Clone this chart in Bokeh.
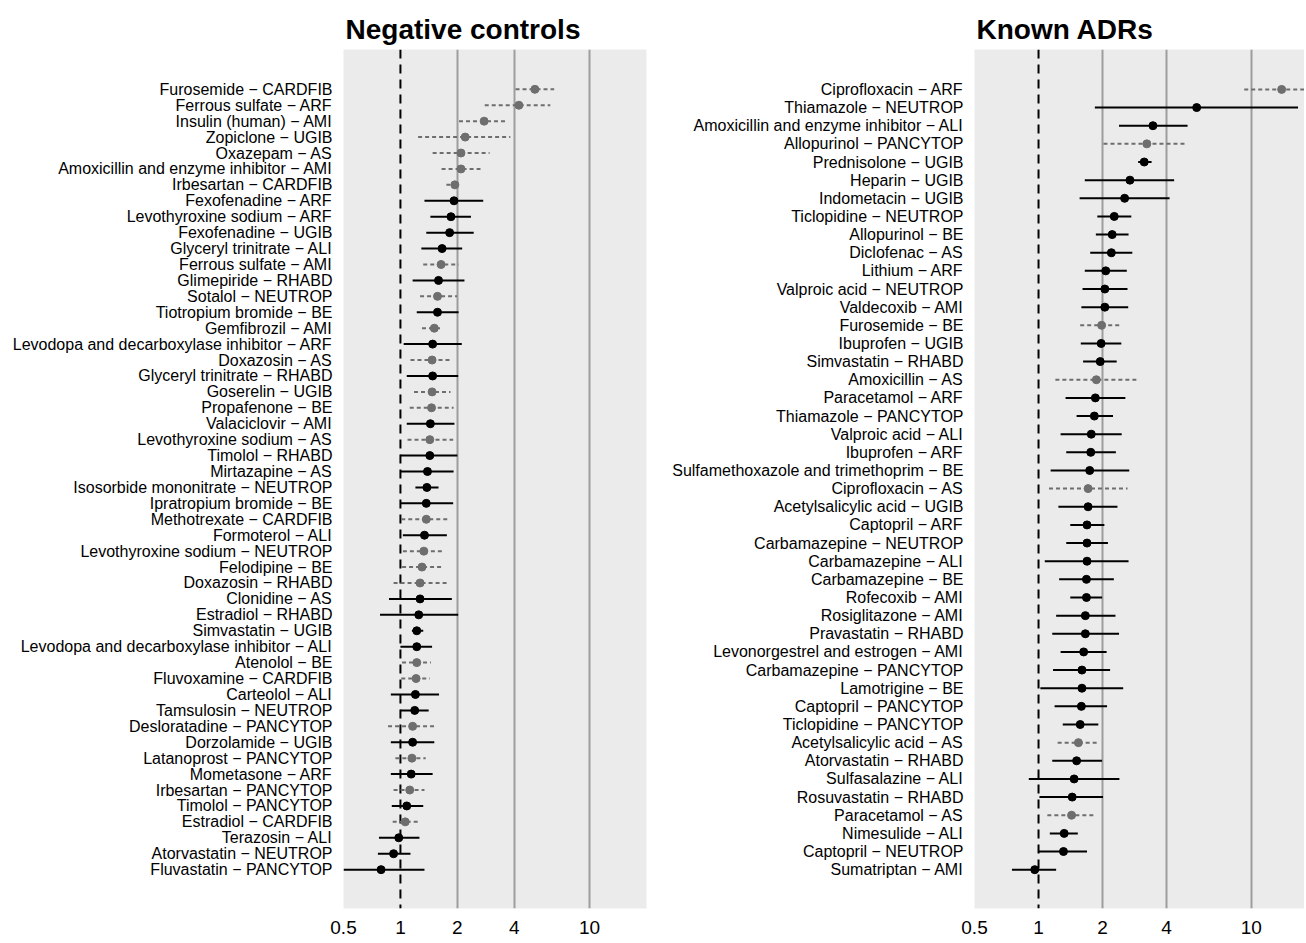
from bokeh.plotting import figure
from bokeh.layouts import row
from bokeh.models import Range1d, FixedTicker, Span, ColumnDataSource, NumeralTickFormatter
from bokeh.embed import file_html
from bokeh.resources import INLINE

# ---------------- data: negative controls ----------------
neg_labels = [
    "Furosemide − CARDFIB", "Ferrous sulfate − ARF", "Insulin (human) − AMI", "Zopiclone − UGIB",
    "Oxazepam − AS", "Amoxicillin and enzyme inhibitor − AMI", "Irbesartan − CARDFIB",
    "Fexofenadine − ARF", "Levothyroxine sodium − ARF", "Fexofenadine − UGIB",
    "Glyceryl trinitrate − ALI", "Ferrous sulfate − AMI", "Glimepiride − RHABD",
    "Sotalol − NEUTROP", "Tiotropium bromide − BE", "Gemfibrozil − AMI",
    "Levodopa and decarboxylase inhibitor − ARF", "Doxazosin − AS", "Glyceryl trinitrate − RHABD",
    "Goserelin − UGIB", "Propafenone − BE", "Valaciclovir − AMI", "Levothyroxine sodium − AS",
    "Timolol − RHABD", "Mirtazapine − AS", "Isosorbide mononitrate − NEUTROP",
    "Ipratropium bromide − BE", "Methotrexate − CARDFIB", "Formoterol − ALI",
    "Levothyroxine sodium − NEUTROP", "Felodipine − BE", "Doxazosin − RHABD", "Clonidine − AS",
    "Estradiol − RHABD", "Simvastatin − UGIB", "Levodopa and decarboxylase inhibitor − ALI",
    "Atenolol − BE", "Fluvoxamine − CARDFIB", "Carteolol − ALI", "Tamsulosin − NEUTROP",
    "Desloratadine − PANCYTOP", "Dorzolamide − UGIB", "Latanoprost − PANCYTOP",
    "Mometasone − ARF", "Irbesartan − PANCYTOP", "Timolol − PANCYTOP", "Estradiol − CARDFIB",
    "Terazosin − ALI", "Atorvastatin − NEUTROP", "Fluvastatin − PANCYTOP",
]
neg_est = [5.14, 4.23, 2.77, 2.20, 2.09, 2.09, 1.94, 1.92, 1.85, 1.82,
           1.66, 1.64, 1.59, 1.57, 1.57, 1.51, 1.48, 1.47, 1.48, 1.47,
           1.46, 1.44, 1.43, 1.43, 1.39, 1.38, 1.37, 1.37, 1.34, 1.33,
           1.30, 1.27, 1.27, 1.25, 1.22, 1.22, 1.22, 1.21, 1.20, 1.19,
           1.16, 1.16, 1.15, 1.14, 1.12, 1.08, 1.06, 0.98, 0.92, 0.79]
neg_lo = [4.06, 2.79, 2.04, 1.24, 1.48, 1.65, 1.75, 1.34, 1.44, 1.37,
          1.29, 1.32, 1.16, 1.27, 1.22, 1.30, 1.04, 1.13, 1.08, 1.18,
          1.12, 1.08, 1.09, 1.00, 1.00, 1.20, 1.00, 1.01, 1.03, 1.03,
          1.02, 0.92, 0.87, 0.78, 1.15, 1.00, 1.02, 1.01, 0.89, 1.00,
          0.86, 0.89, 0.94, 0.89, 0.92, 0.90, 0.91, 0.77, 0.76, 0.50]
neg_hi = [6.50, 6.20, 3.66, 3.81, 2.96, 2.65, 2.02, 2.74, 2.36, 2.44,
          2.12, 2.03, 2.18, 1.99, 2.03, 1.68, 2.11, 1.82, 2.02, 1.84,
          1.91, 1.93, 1.90, 2.00, 1.91, 1.59, 1.90, 1.82, 1.76, 1.67,
          1.65, 1.76, 1.87, 2.02, 1.32, 1.47, 1.45, 1.43, 1.60, 1.41,
          1.54, 1.51, 1.36, 1.48, 1.34, 1.32, 1.27, 1.26, 1.13, 1.34]
neg_dashed = [1, 1, 1, 1, 1, 1, 1, 0, 0, 0,
              0, 1, 0, 1, 0, 1, 0, 1, 0, 1,
              1, 0, 1, 0, 0, 0, 0, 1, 0, 1,
              1, 1, 0, 0, 0, 0, 1, 1, 0, 0,
              1, 0, 1, 0, 1, 0, 1, 0, 0, 0]

# ---------------- data: known ADRs ----------------
adr_labels = [
    "Ciprofloxacin − ARF", "Thiamazole − NEUTROP", "Amoxicillin and enzyme inhibitor − ALI",
    "Allopurinol − PANCYTOP", "Prednisolone − UGIB", "Heparin − UGIB", "Indometacin − UGIB",
    "Ticlopidine − NEUTROP", "Allopurinol − BE", "Diclofenac − AS", "Lithium − ARF",
    "Valproic acid − NEUTROP", "Valdecoxib − AMI", "Furosemide − BE", "Ibuprofen − UGIB",
    "Simvastatin − RHABD", "Amoxicillin − AS", "Paracetamol − ARF", "Thiamazole − PANCYTOP",
    "Valproic acid − ALI", "Ibuprofen − ARF", "Sulfamethoxazole and trimethoprim − BE",
    "Ciprofloxacin − AS", "Acetylsalicylic acid − UGIB", "Captopril − ARF",
    "Carbamazepine − NEUTROP", "Carbamazepine − ALI", "Carbamazepine − BE", "Rofecoxib − AMI",
    "Rosiglitazone − AMI", "Pravastatin − RHABD", "Levonorgestrel and estrogen − AMI",
    "Carbamazepine − PANCYTOP", "Lamotrigine − BE", "Captopril − PANCYTOP",
    "Ticlopidine − PANCYTOP", "Acetylsalicylic acid − AS", "Atorvastatin − RHABD",
    "Sulfasalazine − ALI", "Rosuvastatin − RHABD", "Paracetamol − AS", "Nimesulide − ALI",
    "Captopril − NEUTROP", "Sumatriptan − AMI",
]
adr_est = [13.9, 5.54, 3.45, 3.23, 3.14, 2.69, 2.54, 2.27, 2.22, 2.20,
           2.07, 2.05, 2.05, 1.98, 1.97, 1.95, 1.87, 1.85, 1.83, 1.77,
           1.76, 1.74, 1.71, 1.71, 1.69, 1.69, 1.69, 1.68, 1.68, 1.66,
           1.66, 1.63, 1.60, 1.60, 1.59, 1.57, 1.54, 1.51, 1.47, 1.44,
           1.43, 1.32, 1.31, 0.96]
adr_lo = [9.27, 1.84, 2.39, 2.02, 2.94, 1.65, 1.56, 1.89, 1.86, 1.75,
          1.65, 1.61, 1.59, 1.57, 1.58, 1.62, 1.20, 1.34, 1.51, 1.27,
          1.35, 1.14, 1.12, 1.24, 1.41, 1.35, 1.07, 1.25, 1.41, 1.21,
          1.16, 1.27, 1.17, 1.02, 1.19, 1.30, 1.23, 1.16, 0.90, 1.01,
          1.10, 1.13, 1.00, 0.75]
adr_hi = [20.5, 16.6, 5.02, 4.99, 3.40, 4.34, 4.13, 2.73, 2.65, 2.76,
          2.60, 2.62, 2.64, 2.41, 2.45, 2.33, 2.92, 2.56, 2.24, 2.46,
          2.31, 2.67, 2.62, 2.35, 2.04, 2.12, 2.65, 2.26, 1.99, 2.30,
          2.39, 2.09, 2.17, 2.50, 2.10, 1.91, 1.88, 1.99, 2.40, 2.01,
          1.85, 1.53, 1.69, 1.21]
adr_dashed = [1, 0, 0, 1, 0, 0, 0, 0, 0, 0,
              0, 0, 0, 1, 0, 0, 1, 0, 0, 0,
              0, 0, 1, 0, 0, 0, 0, 0, 0, 0,
              0, 0, 0, 0, 0, 0, 1, 0, 0, 0,
              1, 0, 0, 0]

x_ticks = [0.5, 1, 2, 4, 10]
grid_ticks = [2, 4, 10]

FONT = "Liberation Sans"
GRAY = "#6e6e6e"
FIG_H = 938


def make_panel(title, labels, est, lo, hi, dashed, width, border_left, border_right,
               x_end, pad_top, pad_bottom):
    n = len(labels)
    ys = [n - i for i in range(n)]
    p = figure(width=width, height=FIG_H, x_axis_type="log",
               x_range=Range1d(0.5, x_end), y_range=Range1d(1 - pad_bottom, n + pad_top),
               output_backend="svg", toolbar_location=None,
               min_border_left=border_left, min_border_right=border_right,
               min_border_top=49, min_border_bottom=30)
    p.title.text = title
    p.title.text_font = FONT
    p.title.text_font_size = "28px"
    p.title.text_font_style = "bold"
    p.title.text_color = "black"
    p.title.align = "left"
    p.title.offset = 2
    p.title.standoff = 9
    p.background_fill_color = "#EBEBEB"
    p.border_fill_color = "white"
    p.outline_line_color = None

    # grid
    p.ygrid.grid_line_color = None
    p.xgrid.ticker = FixedTicker(ticks=grid_ticks)
    p.xgrid.grid_line_color = "#9d9d9d"
    p.xgrid.grid_line_width = 2
    p.xgrid.minor_grid_line_color = None

    # x axis
    p.xaxis.ticker = FixedTicker(ticks=x_ticks)
    p.xaxis.formatter = NumeralTickFormatter(format="0.[0]")
    p.xaxis.axis_line_color = None
    p.xaxis.major_tick_line_color = None
    p.xaxis.minor_tick_line_color = None
    p.xaxis.major_tick_out = 0
    p.xaxis.minor_tick_out = 0
    p.xaxis.major_label_text_font = FONT
    p.xaxis.major_label_text_font_size = "19px"
    p.xaxis.major_label_text_color = "black"
    p.xaxis.major_label_standoff = 12

    # y axis
    p.yaxis.ticker = FixedTicker(ticks=ys)
    p.yaxis.major_label_overrides = {y: lab for y, lab in zip(ys, labels)}
    p.yaxis.axis_line_color = None
    p.yaxis.major_tick_line_color = None
    p.yaxis.minor_tick_line_color = None
    p.yaxis.major_tick_out = 0
    p.yaxis.minor_tick_out = 0
    p.yaxis.major_label_text_font = FONT
    p.yaxis.major_label_text_font_size = "16px"
    p.yaxis.major_label_text_color = "black"
    p.yaxis.major_label_standoff = 11

    ref = Span(location=1, dimension="height", line_color="black", line_width=2,
               line_dash="9 6", level="underlay")
    p.add_layout(ref)

    solid = {k: [] for k in ("y", "est", "lo", "hi")}
    dash = {k: [] for k in ("y", "est", "lo", "hi")}
    for y, e, l, h, d in zip(ys, est, lo, hi, dashed):
        tgt = dash if d else solid
        tgt["y"].append(y); tgt["est"].append(e); tgt["lo"].append(l); tgt["hi"].append(h)
    s_src = ColumnDataSource(solid)
    d_src = ColumnDataSource(dash)

    p.segment(x0="lo", x1="hi", y0="y", y1="y", source=d_src, line_color=GRAY,
              line_width=2, line_dash="4 3")
    p.segment(x0="lo", x1="hi", y0="y", y1="y", source=s_src, line_color="black",
              line_width=2)
    p.scatter(x="est", y="y", source=d_src, size=8, fill_color=GRAY, line_color=GRAY)
    p.scatter(x="est", y="y", source=s_src, size=8, fill_color="black", line_color="black")
    return p


p1 = make_panel("Negative controls", neg_labels, neg_est, neg_lo, neg_hi, neg_dashed,
                width=656, border_left=343, border_right=10, x_end=20.0,
                pad_top=2.5, pad_bottom=2.44)
p2 = make_panel("Known ADRs", adr_labels, adr_est, adr_lo, adr_hi, adr_dashed,
                width=648, border_left=318, border_right=0, x_end=17.8,
                pad_top=2.2, pad_bottom=2.14)

layout = row(p1, p2)
open("out.html", "w").write(file_html(layout, INLINE))
